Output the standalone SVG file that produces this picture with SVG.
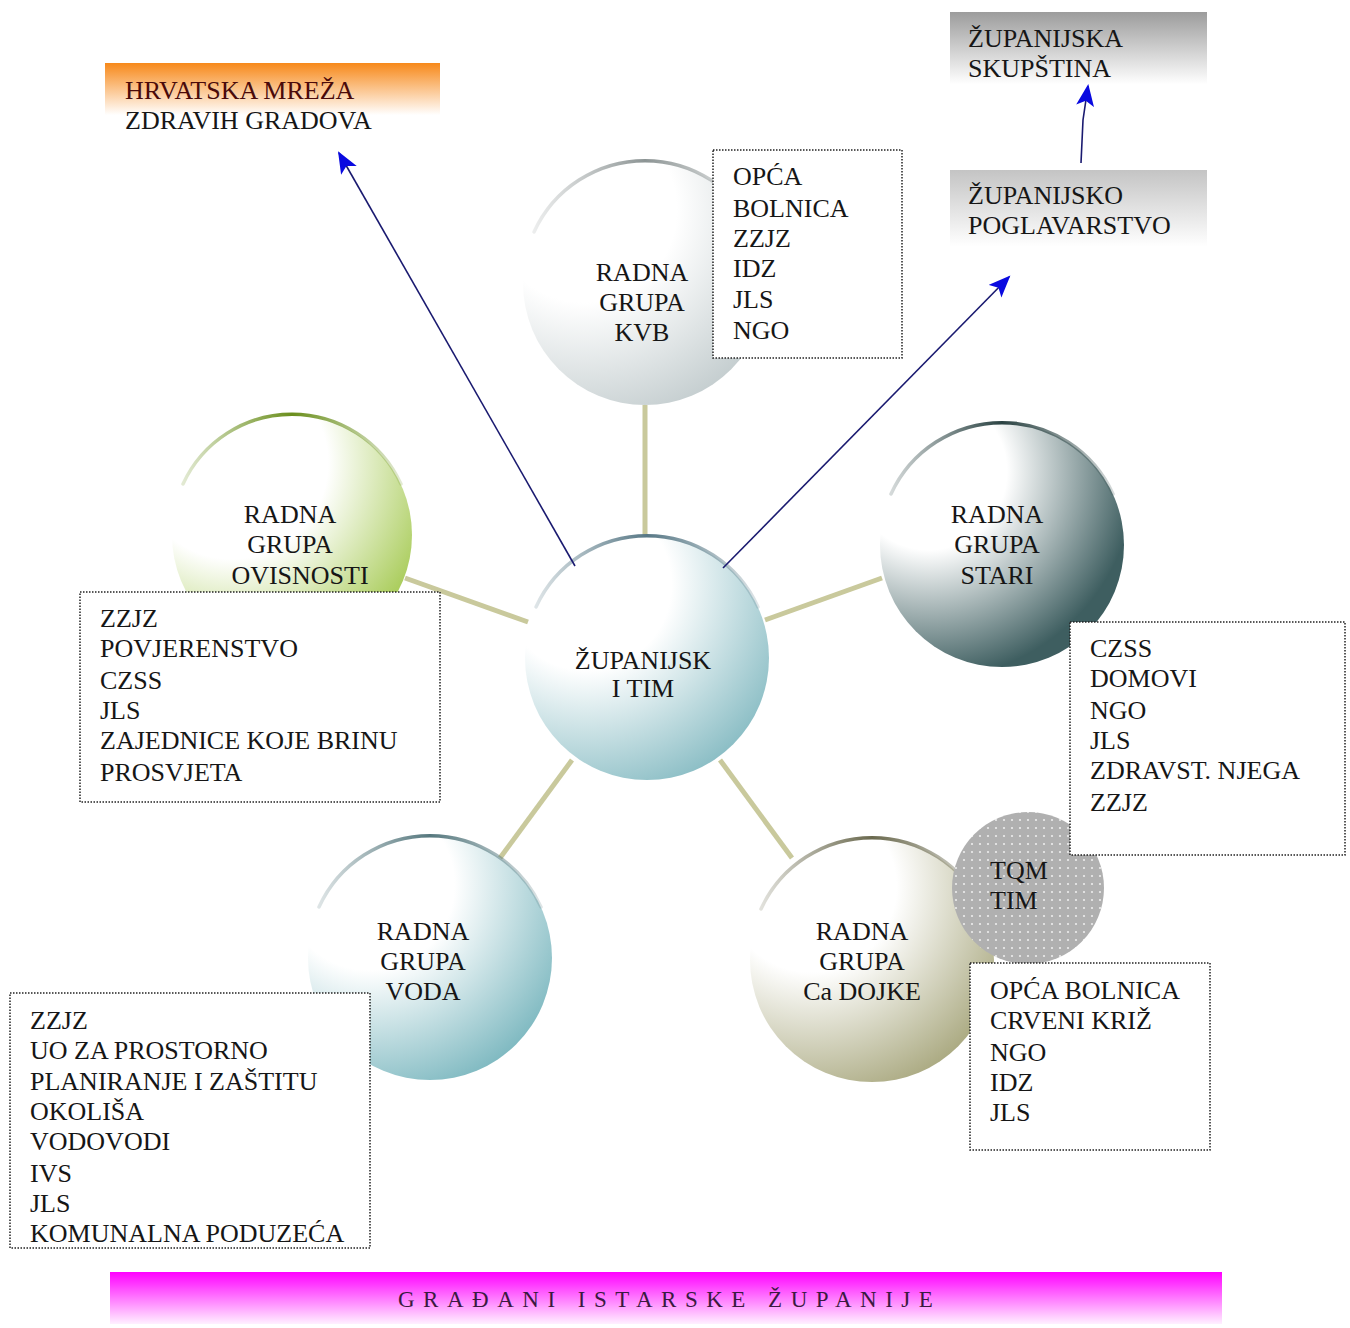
<svg xmlns="http://www.w3.org/2000/svg" width="1350" height="1328" viewBox="0 0 1350 1328">
<defs>
<style>
text{font-family:"Liberation Serif","DejaVu Serif",serif;font-size:26px;fill:#161616}
.c{text-anchor:middle}
.list{fill:#fff;stroke:#222;stroke-width:1.5;stroke-dasharray:1.5 1.5}
.spoke{stroke:#c9c99c;stroke-width:5;fill:none}
.arrow{stroke:#1a1a70;stroke-width:1.6;fill:none;marker-end:url(#ah)}
.rim{fill:none;stroke-width:3.5;stroke-linecap:round}
</style>
<marker id="ah" markerUnits="userSpaceOnUse" markerWidth="24" markerHeight="20" refX="20" refY="9" orient="auto">
<path d="M0,0 L22,9 L0,18 L5,9 Z" fill="#0a0ae0"/>
</marker>
<radialGradient id="gKVB" cx="0.25" cy="0.2" r="1"><stop offset="0.38" stop-color="#fff"/><stop offset="1" stop-color="#b9c4c6"/></radialGradient>
<radialGradient id="gOVI" cx="0.25" cy="0.2" r="1"><stop offset="0.4" stop-color="#fff"/><stop offset="0.88" stop-color="#a9cc5a"/></radialGradient>
<radialGradient id="gCEN" cx="0.25" cy="0.2" r="1"><stop offset="0.35" stop-color="#fff"/><stop offset="0.95" stop-color="#7fb7bf"/></radialGradient>
<radialGradient id="gSTA" cx="0.2" cy="0.2" r="1"><stop offset="0.32" stop-color="#fff"/><stop offset="0.85" stop-color="#3e5e60"/></radialGradient>
<radialGradient id="gVOD" cx="0.25" cy="0.2" r="1"><stop offset="0.35" stop-color="#fff"/><stop offset="0.92" stop-color="#79b6be"/></radialGradient>
<radialGradient id="gDOJ" cx="0.25" cy="0.2" r="1"><stop offset="0.35" stop-color="#fff"/><stop offset="0.92" stop-color="#a7a67c"/></radialGradient>
<linearGradient id="rimKVB" x1="0" x2="1"><stop offset="0" stop-color="#a0a6a6" stop-opacity="0.2"/><stop offset="0.5" stop-color="#8c9494"/><stop offset="1" stop-color="#a0a6a6" stop-opacity="0.2"/></linearGradient>
<linearGradient id="rimOVI" x1="0" x2="1"><stop offset="0" stop-color="#6f9422" stop-opacity="0.2"/><stop offset="0.5" stop-color="#6a8e1c"/><stop offset="1" stop-color="#6f9422" stop-opacity="0.2"/></linearGradient>
<linearGradient id="rimCEN" x1="0" x2="1"><stop offset="0" stop-color="#5a7b88" stop-opacity="0.2"/><stop offset="0.5" stop-color="#587886"/><stop offset="1" stop-color="#5a7b88" stop-opacity="0.2"/></linearGradient>
<linearGradient id="rimSTA" x1="0" x2="1"><stop offset="0" stop-color="#2b4444" stop-opacity="0.2"/><stop offset="0.5" stop-color="#2a4242"/><stop offset="1" stop-color="#2b4444" stop-opacity="0.2"/></linearGradient>
<linearGradient id="rimVOD" x1="0" x2="1"><stop offset="0" stop-color="#587a80" stop-opacity="0.2"/><stop offset="0.5" stop-color="#56787e"/><stop offset="1" stop-color="#587a80" stop-opacity="0.2"/></linearGradient>
<linearGradient id="rimDOJ" x1="0" x2="1"><stop offset="0" stop-color="#6c6b50" stop-opacity="0.2"/><stop offset="0.5" stop-color="#6a694e"/><stop offset="1" stop-color="#6c6b50" stop-opacity="0.2"/></linearGradient>
<linearGradient id="gHRV" x1="0" y1="0" x2="0" y2="1"><stop offset="0" stop-color="#f7891a"/><stop offset="0.65" stop-color="#fff"/><stop offset="1" stop-color="#fff"/></linearGradient>
<linearGradient id="gSKU" x1="0" y1="0" x2="0" y2="1"><stop offset="0" stop-color="#9c9c9c"/><stop offset="0.85" stop-color="#fff"/></linearGradient>
<linearGradient id="gPOG" x1="0" y1="0" x2="0" y2="1"><stop offset="0" stop-color="#c4c4c4"/><stop offset="0.9" stop-color="#fff"/></linearGradient>
<linearGradient id="gGRA" x1="0" y1="0" x2="0" y2="1"><stop offset="0" stop-color="#ff00ff"/><stop offset="1" stop-color="#fff0ff"/></linearGradient>
<pattern id="dots" width="8" height="8" patternUnits="userSpaceOnUse"><rect width="8" height="8" fill="#b0b0b0"/><circle cx="4" cy="4" r="1.1" fill="#ececec"/></pattern>
</defs>
<rect width="1350" height="1328" fill="#fff"/>

<g id="connectors">
<line class="spoke" x1="645" y1="405" x2="645" y2="535"/>
<line class="spoke" x1="405" y1="578" x2="528" y2="622"/>
<line class="spoke" x1="765" y1="620" x2="882" y2="578"/>
<line class="spoke" x1="572" y1="760" x2="500" y2="858"/>
<line class="spoke" x1="720" y1="760" x2="792" y2="858"/>
</g>

<g id="kvb">
<circle cx="645" cy="283" r="122" fill="url(#gKVB)"/>
<path class="rim" stroke="url(#rimKVB)" d="M534,232 A122,122 0 0 1 756,232"/>
<text class="c" x="642" y="281">RADNA</text>
<text class="c" x="642" y="311">GRUPA</text>
<text class="c" x="642" y="341">KVB</text>
</g>

<g id="ovisnosti">
<circle cx="292" cy="535" r="120" fill="url(#gOVI)"/>
<path class="rim" stroke="url(#rimOVI)" d="M183,484 A120,120 0 0 1 401,484"/>
<text class="c" x="290" y="523">RADNA</text>
<text class="c" x="290" y="553">GRUPA</text>
<text class="c" x="300" y="584">OVISNOSTI</text>
</g>

<g id="stari">
<circle cx="1002" cy="545" r="122" fill="url(#gSTA)"/>
<path class="rim" stroke="url(#rimSTA)" d="M891,494 A122,122 0 0 1 1113,494"/>
<text class="c" x="997" y="523">RADNA</text>
<text class="c" x="997" y="553">GRUPA</text>
<text class="c" x="997" y="584">STARI</text>
</g>

<g id="voda">
<circle cx="430" cy="958" r="122" fill="url(#gVOD)"/>
<path class="rim" stroke="url(#rimVOD)" d="M319,907 A122,122 0 0 1 541,907"/>
<text class="c" x="423" y="940">RADNA</text>
<text class="c" x="423" y="970">GRUPA</text>
<text class="c" x="423" y="1000">VODA</text>
</g>

<g id="cadojke">
<circle cx="872" cy="960" r="122" fill="url(#gDOJ)"/>
<path class="rim" stroke="url(#rimDOJ)" d="M761,909 A122,122 0 0 1 983,909"/>
<text class="c" x="862" y="940">RADNA</text>
<text class="c" x="862" y="970">GRUPA</text>
<text class="c" x="862" y="1000">Ca DOJKE</text>
</g>

<g id="tqm">
<circle cx="1028" cy="888" r="76" fill="url(#dots)"/>
<text x="990" y="879">TQM</text>
<text x="990" y="909">TIM</text>
</g>

<g id="zupanijski-tim">
<circle cx="647" cy="658" r="122" fill="url(#gCEN)"/>
<path class="rim" stroke="url(#rimCEN)" d="M536,607 A122,122 0 0 1 758,607"/>
<text class="c" x="643" y="669">ŽUPANIJSK</text>
<text class="c" x="643" y="697">I TIM</text>
</g>

<g id="list-kvb">
<rect class="list" x="713" y="150" width="189" height="208"/>
<text x="733" y="185">OPĆA</text>
<text x="733" y="217">BOLNICA</text>
<text x="733" y="247">ZZJZ</text>
<text x="733" y="277">IDZ</text>
<text x="733" y="308">JLS</text>
<text x="733" y="339">NGO</text>
</g>

<g id="list-ovisnosti">
<rect class="list" x="80" y="592" width="360" height="210"/>
<text x="100" y="627">ZZJZ</text>
<text x="100" y="657">POVJERENSTVO</text>
<text x="100" y="689">CZSS</text>
<text x="100" y="719">JLS</text>
<text x="100" y="749">ZAJEDNICE KOJE BRINU</text>
<text x="100" y="781">PROSVJETA</text>
</g>

<g id="list-stari">
<rect class="list" x="1070" y="622" width="275" height="233"/>
<text x="1090" y="657">CZSS</text>
<text x="1090" y="687">DOMOVI</text>
<text x="1090" y="719">NGO</text>
<text x="1090" y="749">JLS</text>
<text x="1090" y="779">ZDRAVST. NJEGA</text>
<text x="1090" y="811">ZZJZ</text>
</g>

<g id="list-cadojke">
<rect class="list" x="970" y="963" width="240" height="187"/>
<text x="990" y="999">OPĆA BOLNICA</text>
<text x="990" y="1029">CRVENI KRIŽ</text>
<text x="990" y="1061">NGO</text>
<text x="990" y="1091">IDZ</text>
<text x="990" y="1121">JLS</text>
</g>

<g id="list-voda">
<rect class="list" x="10" y="993" width="360" height="255"/>
<text x="30" y="1029">ZZJZ</text>
<text x="30" y="1059">UO ZA PROSTORNO</text>
<text x="30" y="1090">PLANIRANJE I ZAŠTITU</text>
<text x="30" y="1120">OKOLIŠA</text>
<text x="30" y="1150">VODOVODI</text>
<text x="30" y="1182">IVS</text>
<text x="30" y="1212">JLS</text>
<text x="30" y="1242">KOMUNALNA PODUZEĆA</text>
</g>

<g id="hrvatska-mreza">
<rect x="105" y="63" width="335" height="80" fill="url(#gHRV)"/>
<text x="125" y="99" style="fill:#4a0a0a">HRVATSKA MREŽA</text>
<text x="125" y="129">ZDRAVIH GRADOVA</text>
</g>

<g id="zupanijska-skupstina">
<rect x="950" y="12" width="257" height="85" fill="url(#gSKU)"/>
<text x="968" y="47">ŽUPANIJSKA</text>
<text x="968" y="77">SKUPŠTINA</text>
</g>

<g id="zupanijsko-poglavarstvo">
<rect x="950" y="170" width="257" height="85" fill="url(#gPOG)"/>
<text x="968" y="204">ŽUPANIJSKO</text>
<text x="968" y="234">POGLAVARSTVO</text>
</g>

<g id="gradani">
<rect x="110" y="1272" width="1112" height="52" fill="url(#gGRA)"/>
<text x="398" y="1307" style="font-size:23px;letter-spacing:8.5px;fill:#3a1a40">GRAĐANI ISTARSKE ŽUPANIJE</text>
</g>

<g id="arrows">
<line class="arrow" x1="575" y1="566" x2="339" y2="153"/>
<line class="arrow" x1="723" y1="568" x2="1009" y2="277"/>
<polyline class="arrow" points="1081,163 1083,120 1088,86"/>
</g>
</svg>
